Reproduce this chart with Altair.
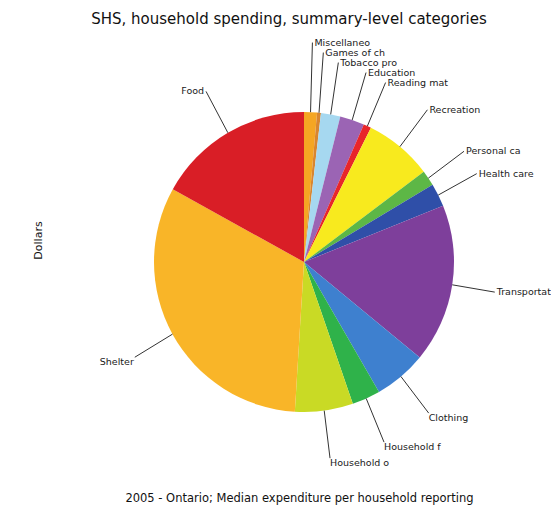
import math
import altair as alt
import pandas as pd

# ---- data ----
categories = [
    "Miscellaneous",
    "Games of chance",
    "Tobacco products and alcoholic beverages",
    "Education",
    "Reading materials and other printed matter",
    "Recreation",
    "Personal care",
    "Health care",
    "Transportation",
    "Clothing",
    "Household furnishings and equipment",
    "Household operation",
    "Shelter",
    "Food",
]
values = [500, 150, 750, 950, 300, 2650, 600, 900, 6150, 2050, 1100, 2250, 11550, 6100]
colors = [
    "#F5A623", "#D9862F", "#A6D8F0", "#9B64B4", "#E8262A", "#F8EA1E", "#5DB746",
    "#2F4FA8", "#7E3F9B", "#3E80CF", "#2FB24A", "#C9DA25", "#F9B528", "#D91E26",
]
title_text = "SHS, household spending, summary-level categories"
x_title = "2005 - Ontario; Median expenditure per household reporting"
y_title = "Dollars"

# ---- layout constants ----
W, H = 494, 444
R = 150
RX_LABEL = 193
RY_LABEL = 198
GAP = 10
FONT = "DejaVu Sans"

total = float(sum(values))
rows = []
cum = 0.0
for i, (c, v) in enumerate(zip(categories, values)):
    mid = (cum + v / 2.0) / total * 2 * math.pi
    cum += v
    rows.append(dict(idx=i, category=c, label=c[:11], value=v, mid=mid,
                     ax=R * math.sin(mid), ay=R * math.cos(mid),
                     ex=RX_LABEL * math.sin(mid), ey=RY_LABEL * math.cos(mid)))
df = pd.DataFrame(rows)

# push right-side labels apart vertically (bottom to top)
right_idx = df[df["mid"] < math.pi].sort_values("mid", ascending=False).index
prev = None
for i in right_idx:
    if prev is not None and df.at[i, "ey"] < prev + GAP:
        df.at[i, "ey"] = prev + GAP
    prev = df.at[i, "ey"]

df["pos"] = [("r" if m < math.pi else "l") + ("t" if e < -60 else "m")
             for m, e in zip(df["mid"], df["ey"])]

xs = alt.Scale(domain=[-W / 2, W / 2])
ys = alt.Scale(domain=[-H / 2, H / 2])
x_axis = alt.Axis(title=x_title, labels=False, ticks=False, domain=False, grid=False,
                  titleFont=FONT, titleFontSize=11.5, titleFontWeight="normal",
                  titleColor="#111111", titlePadding=8, titleX=242)
y_axis = alt.Axis(title=y_title, labels=False, ticks=False, domain=False, grid=False,
                  titleFont=FONT, titleFontSize=11, titleFontWeight="normal",
                  titleColor="#111111", titleX=-19, titleY=200, titleAngle=-90,
                  titleAlign="center", titleBaseline="middle")

base = alt.Chart(df)

pie = base.mark_arc(outerRadius=R).encode(
    theta=alt.Theta("value:Q", stack=True),
    color=alt.Color("category:N", scale=alt.Scale(domain=categories, range=colors), legend=None),
    order=alt.Order("idx:Q"),
)

leaders = base.mark_rule(color="#333333", strokeWidth=1).encode(
    x=alt.X("ax:Q", scale=xs, axis=x_axis),
    y=alt.Y("ay:Q", scale=ys, axis=y_axis),
    x2="ex:Q",
    y2="ey:Q",
)


def labels(pos, align, baseline, dx):
    return base.transform_filter(alt.datum.pos == pos).mark_text(
        align=align, baseline=baseline, dx=dx, font=FONT, fontSize=9.5, color="#1a1a1a"
    ).encode(
        x=alt.X("ex:Q", scale=xs, axis=x_axis),
        y=alt.Y("ey:Q", scale=ys, axis=y_axis),
        text="label:N",
    )


chart = alt.layer(
    pie,
    leaders,
    labels("rm", "left", "middle", 2),
    labels("rt", "left", "top", 0),
    labels("lm", "right", "middle", -2),
    labels("lt", "right", "top", -1),
).properties(
    width=W,
    height=H,
    autosize=alt.AutoSizeParams(type="none"),
    padding={"left": 57, "top": 40, "right": 0, "bottom": 31},
    title=alt.TitleParams(text=title_text, font=FONT, fontSize=15, fontWeight="normal",
                          color="#111111", dx=-15, offset=11),
    background="white",
).configure_view(stroke=None)

chart.save("out.html", embed_options={"renderer": "svg", "actions": False})
